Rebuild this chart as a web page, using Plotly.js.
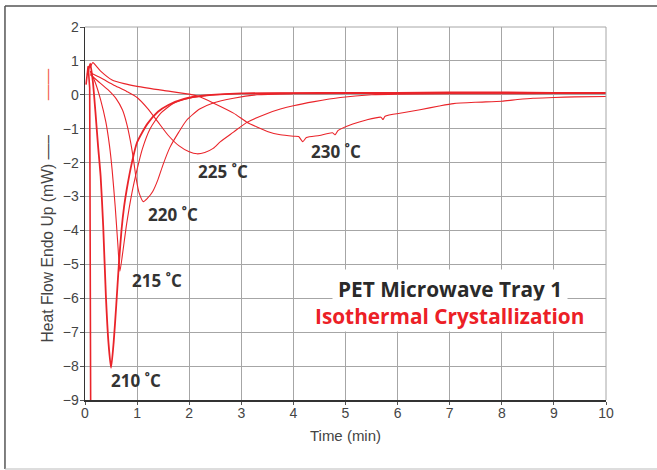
<!DOCTYPE html>
<html>
<head>
<meta charset="utf-8">
<script src="https://cdn.plot.ly/plotly-3.0.1.min.js"></script>
<style>html,body{margin:0;padding:0;background:#fff;}#chart{width:657px;height:470px;}</style>
</head>
<body>
<div id="chart"></div>
<script>
// ---- Data ----
var xTickVals = [0,1,2,3,4,5,6,7,8,9,10];
var yTickVals = [-9,-8,-7,-6,-5,-4,-3,-2,-1,0,1,2];

// off-scale initial transient (runs below -9)
var tStart = [0.02, 0.06, 0.09, 0.10, 0.11];
var hfStart = [0.30, 0.85, 0.20, -5.0, -9.8];

var t210  = [0.05,0.10,0.15,0.20,0.25,0.30,0.35,0.40,0.45,0.50,0.55,0.60,0.65,0.70,0.75,0.80,0.90,1.00,1.20,1.40,1.60,1.90,2.30,3.0,4.0,5.0,6.0,7.0,8.0,9.0,10.0];
var hf210 = [0.60,0.92,0.40,-0.50,-1.50,-2.40,-3.90,-5.90,-7.30,-8.05,-7.30,-6.20,-5.00,-4.00,-3.30,-2.80,-2.00,-1.40,-0.85,-0.50,-0.30,-0.12,-0.02,0.04,0.05,0.06,0.06,0.07,0.07,0.06,0.06];

var t215  = [0.10,0.20,0.30,0.40,0.47,0.52,0.58,0.63,0.67,0.72,0.80,0.90,1.00,1.10,1.25,1.45,1.70,2.00,2.50,3.0,4.0,5.0,6.0,7.0,8.0,9.0,10.0];
var hf215 = [0.70,0.35,-0.15,-0.80,-1.50,-2.20,-3.30,-4.40,-5.20,-4.70,-3.80,-2.90,-2.20,-1.60,-1.00,-0.55,-0.25,-0.10,0.00,0.04,0.05,0.05,0.05,0.05,0.06,0.05,0.05];

var t220  = [0.10,0.25,0.44,0.60,0.72,0.80,0.87,0.93,0.98,1.04,1.12,1.20,1.30,1.40,1.50,1.63,1.80,1.95,2.20,2.46,2.85,3.30,4.0,5.0,6.0,7.0,8.0,9.0,10.0];
var hf220 = [0.60,0.40,0.15,-0.12,-0.45,-0.85,-1.35,-1.90,-2.45,-2.90,-3.15,-3.05,-2.85,-2.50,-2.05,-1.55,-1.10,-0.75,-0.42,-0.24,-0.10,0.00,0.03,0.04,0.04,0.05,0.05,0.05,0.05];

var t225  = [0.10,0.30,0.54,0.80,1.00,1.20,1.40,1.60,1.80,2.00,2.15,2.30,2.46,2.60,2.85,3.10,3.50,3.75,4.00,4.40,4.90,5.50,6.0,7.0,8.0,9.0,10.0];
var hf225 = [0.65,0.50,0.30,0.10,-0.08,-0.40,-0.80,-1.20,-1.50,-1.68,-1.74,-1.70,-1.58,-1.38,-1.10,-0.82,-0.55,-0.42,-0.32,-0.20,-0.08,0.00,0.02,0.03,0.03,0.04,0.04];

var t230  = [0.10,0.15,0.30,0.52,0.75,1.00,1.50,2.00,2.20,2.46,2.85,3.10,3.30,3.50,3.75,4.00,4.10,4.18,4.25,4.50,4.75,4.80,4.86,5.14,5.40,5.68,5.72,5.76,6.10,6.43,6.80,7.07,7.50,8.00,8.30,8.60,9.00,9.40,10.0];
var hf230 = [0.80,0.95,0.70,0.44,0.33,0.25,0.13,0.02,-0.06,-0.24,-0.54,-0.80,-0.95,-1.08,-1.18,-1.22,-1.23,-1.38,-1.26,-1.20,-1.12,-1.18,-1.05,-0.86,-0.74,-0.66,-0.73,-0.63,-0.53,-0.44,-0.33,-0.26,-0.22,-0.19,-0.14,-0.10,-0.08,-0.06,-0.05];

var curveLabels = ["210 \u02DAC","215 \u02DAC","220 \u02DAC","225 \u02DAC","230 \u02DAC"];
var labelX = [0.98, 1.39, 1.69, 2.65, 4.82];
var labelY = [-8.42, -5.47, -3.52, -2.27, -1.68];

var titleLine1 = "PET Microwave Tray 1";
var titleLine2 = "Isothermal Crystallization";

// ---- Styling ----
var RED = "rgb(234,36,42)";
function curve(x, y, w) {
  return {x: x, y: y, type: "scatter", mode: "lines", hoverinfo: "skip",
          line: {color: RED, width: w, shape: "spline", smoothing: 0.6}};
}
var data = [
  {x: tStart, y: hfStart, type: "scatter", mode: "lines", line: {color: RED, width: 1.6}},
  curve(t210, hf210, 1.8),
  curve(t215, hf215, 1.1),
  curve(t220, hf220, 1.1),
  curve(t225, hf225, 1.1),
  curve(t230, hf230, 1.1)
];

var annotations = [];
for (var i = 0; i < curveLabels.length; i++) {
  annotations.push({x: labelX[i], y: labelY[i], xref: "x", yref: "y", text: curveLabels[i],
    showarrow: false, font: {family: "Open Sans", size: 17, color: "#333", weight: 700}});
}
annotations.push({x: 7.0, y: -5.72, xref: "x", yref: "y", text: titleLine1, showarrow: false,
  bgcolor: "#fff", borderpad: 5, font: {family: "Open Sans", size: 20.8, color: "#2a2a2a", weight: 700}});
annotations.push({x: 7.0, y: -6.52, xref: "x", yref: "y", text: titleLine2, showarrow: false,
  bgcolor: "#fff", borderpad: 1, font: {family: "Open Sans", size: 20.8, color: "rgb(236,32,38)", weight: 700}});

var NB = "\u00a0";
function nbsp(n) { var s = ""; for (var k = 0; k < n; k++) s += NB; return s; }
var yTitle = '<span style="color:rgba(255,255,255,0)">\u2014</span>' +
             "Heat Flow Endo Up (mW) \u2014\u2013" + nbsp(8) +
             '<span style="color:#f26050">\u2014\u2014</span>';

var layout = {
  width: 657, height: 470,
  margin: {l: 85, r: 51, t: 27, b: 70},
  paper_bgcolor: "#fff", plot_bgcolor: "#fff",
  showlegend: false,
  font: {family: "Liberation Sans, Arial, sans-serif", size: 14, color: "#444"},
  xaxis: {range: [0, 10], tickvals: xTickVals, showgrid: true, gridcolor: "#a6a6a6", gridwidth: 1,
          zeroline: false, showline: true, linecolor: "#333", linewidth: 1.5,
          ticks: "outside", ticklen: 3, tickcolor: "#555", ticklabelstandoff: -3,
          tickfont: {size: 14, color: "#444"},
          title: {text: "Time (min)", font: {size: 15, color: "#444"}, standoff: 10}},
  yaxis: {range: [-9, 2], tickvals: yTickVals, showgrid: true, gridcolor: "#a6a6a6", gridwidth: 1,
          zeroline: false, showline: true, linecolor: "#333", linewidth: 1.5,
          ticks: "outside", ticklen: 4, tickcolor: "#555", ticklabelstandoff: -2,
          tickfont: {size: 14, color: "#444"},
          title: {text: yTitle, font: {size: 15.7, color: "#444"}, standoff: 5}},
  annotations: annotations,
  shapes: [
    {type: "line", xref: "paper", yref: "paper", x0: 1, x1: 1, y0: 0, y1: 1, line: {color: "#a6a6a6", width: 1}},
    {type: "line", xref: "paper", yref: "paper", x0: 0, x1: 1, y0: 1, y1: 1, line: {color: "#a6a6a6", width: 1}},
    {type: "line", xref: "paper", yref: "paper", x0: -0.1536, x1: 1.1, y0: 1.0563, y1: 1.0563, line: {color: "#555", width: 1.5}},
    {type: "line", xref: "paper", yref: "paper", x0: -0.1536, x1: -0.1536, y0: -0.185, y1: 1.0563, line: {color: "#555", width: 1.5}},
    {type: "line", xref: "paper", yref: "paper", x0: -0.1536, x1: 1.1, y0: -0.185, y1: -0.185, line: {color: "#bbb", width: 1}}
  ]
};

Plotly.newPlot("chart", data, layout, {displayModeBar: false, staticPlot: true});
</script>
</body>
</html>
